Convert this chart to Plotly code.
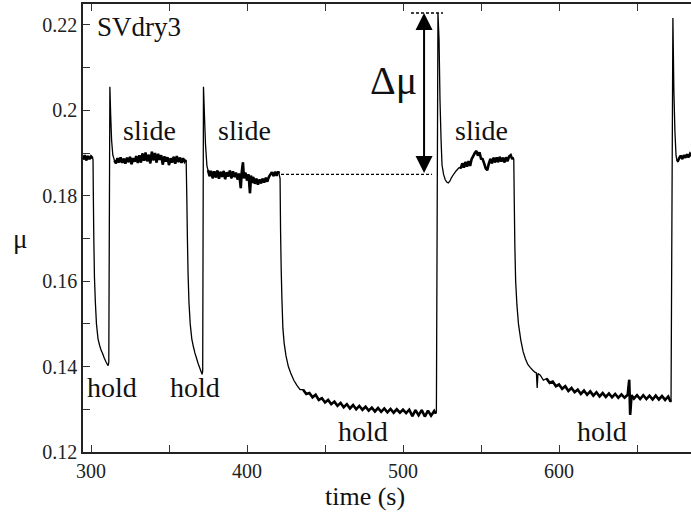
import plotly.graph_objects as go

# ---- data (time in s, friction coefficient mu) ----
slide0_t = [295, 296, 297, 298, 299, 300, 301]
slide0_mu = [0.1885, 0.1895, 0.1883, 0.1893, 0.1886, 0.1892, 0.1888]

hold1_t = [301.3, 301.5, 301.8, 302.2, 302.8, 303.5, 304.5, 305.5, 306.5, 307.5, 308.5, 309.5, 310.5, 311.0]
hold1_mu = [0.1885, 0.180, 0.170, 0.161, 0.155, 0.150, 0.1465, 0.145, 0.1438, 0.143, 0.142, 0.1412, 0.1405, 0.1402]

peak1_t = [311.4, 312.1, 312.6, 313.2, 314.0]
peak1_mu = [0.141, 0.2055, 0.199, 0.193, 0.1895]

slide1_t = [315, 316, 317, 318, 319, 320, 321, 322, 323, 324, 325, 326, 327, 328, 329, 330,
            331, 332, 333, 334, 335, 336, 337, 338, 339, 340, 341, 342, 343, 344, 345, 346,
            347, 348, 349, 350, 351, 352, 353, 354, 355, 356, 357, 358, 359, 360, 360.8]
slide1_mu = [0.1883, 0.1876, 0.1888, 0.1878, 0.1890, 0.1877, 0.1887, 0.1875, 0.1889, 0.1879,
             0.1891, 0.1874, 0.1888, 0.1880, 0.1893, 0.1877, 0.1895, 0.1878, 0.1899, 0.1882,
             0.1901, 0.1881, 0.1896, 0.1876, 0.1903, 0.1883, 0.1900, 0.1878, 0.1898, 0.1884,
             0.1895, 0.1873, 0.1892, 0.1880, 0.1890, 0.1872, 0.1888, 0.1878, 0.1891, 0.1875,
             0.1893, 0.1879, 0.1889, 0.1877, 0.1888, 0.1880, 0.1884]

hold2_t = [361.0, 361.4, 361.8, 362.2, 362.8, 363.6, 364.6, 365.6, 366.6, 367.6, 368.6, 369.6, 370.6, 371.2]
hold2_mu = [0.1882, 0.180, 0.170, 0.162, 0.155, 0.150, 0.1465, 0.1447, 0.1432, 0.142, 0.1408, 0.1398, 0.1388, 0.1382]

peak2_t = [371.6, 372.1, 372.7, 373.4, 374.3]
peak2_mu = [0.139, 0.2055, 0.199, 0.192, 0.187]

slide2_t = [375, 376, 377, 378, 379, 380, 381, 382, 383, 384, 385, 386, 387, 388, 389, 390,
            391, 392, 393, 394, 395, 396, 396.6, 397.4, 398, 399, 400, 401, 401.9, 402.6, 403,
            404, 405, 406, 407, 408, 409, 410, 411, 412, 413, 414, 415, 416, 417, 418, 419, 420, 420.5]
slide2_mu = [0.1860, 0.1846, 0.1858, 0.1841, 0.1857, 0.1843, 0.1859, 0.1840, 0.1856, 0.1844,
             0.1858, 0.1839, 0.1855, 0.1845, 0.1859, 0.1841, 0.1857, 0.1844, 0.1854, 0.1838,
             0.1852, 0.1818, 0.1854, 0.1878, 0.1841, 0.1854, 0.1836, 0.1850, 0.1806, 0.1847,
             0.1830, 0.1844, 0.1828, 0.1840, 0.1826, 0.1838, 0.1829, 0.1840, 0.1831, 0.1842,
             0.1833, 0.1844, 0.1850, 0.1855, 0.1846, 0.1856, 0.1847, 0.1857, 0.1852]

hold3_t = [421.2, 421.5, 421.9, 422.4, 423.0, 423.8, 425, 426.5, 428, 430,
           432, 434, 436, 438, 440, 442, 444, 446, 448, 450, 452, 454, 456, 458, 460,
           462, 464, 466, 468, 470, 472, 474, 476, 478, 480, 482, 484, 486, 488, 490,
           492, 494, 496, 498, 500, 502, 504, 506, 508, 510, 512, 514, 516, 518, 520, 521]
hold3_mu = [0.1840, 0.172, 0.163, 0.1556, 0.1490, 0.1455, 0.1425, 0.1400, 0.1385, 0.1368,
            0.1356, 0.1346, 0.1346, 0.1336, 0.1338, 0.1328, 0.1334, 0.1322, 0.1326, 0.1316,
            0.1322, 0.1312, 0.1318, 0.1308, 0.1315, 0.1305, 0.1312, 0.1302, 0.1310, 0.1300,
            0.1308, 0.1299, 0.1306, 0.1297, 0.1304, 0.1295, 0.1303, 0.1294, 0.1302, 0.1293,
            0.1301, 0.1292, 0.1300, 0.1292, 0.1299, 0.1291, 0.1299, 0.1284, 0.1298, 0.1286,
            0.1298, 0.1283, 0.1297, 0.1285, 0.1296, 0.1290]

peak3_t = [521.4, 522.4, 523.1, 523.7, 524.4]
peak3_mu = [0.1294, 0.2228, 0.2165, 0.2024, 0.193]

slide3_t = [525, 526, 527, 528, 529, 530, 531, 532, 533, 534, 535, 536,
            537, 538, 539, 540, 541, 542, 543, 544, 545, 546, 547, 548, 549, 550, 551, 552,
            553, 554, 555, 556, 557, 558, 559, 560, 561, 562, 563, 564, 565, 566, 567, 568,
            569, 570, 570.6]
slide3_mu = [0.1872, 0.1850, 0.1838, 0.1832, 0.1830, 0.1834, 0.1842, 0.1848, 0.1853, 0.1858,
             0.1862, 0.1866, 0.1864, 0.1876, 0.1866, 0.1879, 0.1868, 0.1881, 0.1870, 0.1886,
             0.1893, 0.1900, 0.1905, 0.1894, 0.1902, 0.1887, 0.1886, 0.1876, 0.1864, 0.1860,
             0.1875, 0.1886, 0.1876, 0.1889, 0.1878, 0.1890, 0.1879, 0.1891, 0.1880, 0.1889,
             0.1878, 0.1890, 0.1881, 0.1892, 0.1895, 0.1886, 0.1890]

hold4_t = [571.0, 571.3, 571.7, 572.2, 573.0, 574.0, 575.5, 577, 578.5, 580, 581.5, 583,
           584.5, 585.5, 586, 586.5, 588, 590, 592, 594, 596, 598, 600, 602, 604, 606, 608,
           610, 612, 614, 616, 618, 620, 622, 624, 626, 628, 630, 632, 634, 636, 638, 640,
           642, 644, 645, 645.6, 646.5, 648, 650, 652, 654, 656, 658, 660, 662, 664, 666,
           668, 670, 671.5]
hold4_mu = [0.1885, 0.179, 0.168, 0.160, 0.1545, 0.150, 0.1462, 0.1435, 0.1418, 0.1405,
            0.1398, 0.1392, 0.1387, 0.1385, 0.1350, 0.1384, 0.1380, 0.1368, 0.1372, 0.1362,
            0.1365, 0.1354, 0.1358, 0.1348, 0.1354, 0.1343, 0.1350, 0.1340, 0.1346, 0.1336,
            0.1344, 0.1334, 0.1342, 0.1332, 0.1340, 0.1330, 0.1338, 0.1329, 0.1337, 0.1328,
            0.1336, 0.1327, 0.1335, 0.1327, 0.1334, 0.1369, 0.1287, 0.1333, 0.1325, 0.1333,
            0.1324, 0.1333, 0.1324, 0.1332, 0.1323, 0.1332, 0.1323, 0.1331, 0.1322, 0.1330,
            0.1318]

peak4_t = [671.8, 673.0, 673.6, 674.3, 675.0, 675.6]
peak4_mu = [0.1318, 0.2216, 0.205, 0.195, 0.1895, 0.1882]

slide4_t = [676, 677, 678, 679, 680, 681, 682, 683, 684, 685]
slide4_mu = [0.1880, 0.1888, 0.1894, 0.1886, 0.1895, 0.1889, 0.1897, 0.1890, 0.1898, 0.1893]

# reference levels for the delta-mu marker
mu_slide_ref = 0.185
mu_peak_ref = 0.2228
ref_low_t = [421.8, 518.6]
ref_high_t = [505.1, 525.6]
arrow_t = 513.5

y_tickvals = [0.12, 0.14, 0.16, 0.18, 0.20, 0.22]
y_ticktext = ["0.12", "0.14", "0.16", "0.18", "0.2", "0.22"]
x_tickvals = [300, 400, 500, 600]

labels = [  # text, t, mu
    ("slide", 337.2, 0.1952),
    ("slide", 398.7, 0.1952),
    ("slide", 550.0, 0.1952),
    ("hold", 313.5, 0.1350),
    ("hold", 366.7, 0.1350),
    ("hold", 474.4, 0.1247),
    ("hold", 627.6, 0.1247),
]

FONT = "Liberation Serif"

segments_t = [slide0_t, hold1_t, peak1_t, slide1_t, hold2_t, peak2_t, slide2_t,
              hold3_t, peak3_t, slide3_t, hold4_t, peak4_t, slide4_t]
segments_mu = [slide0_mu, hold1_mu, peak1_mu, slide1_mu, hold2_mu, peak2_mu, slide2_mu,
               hold3_mu, peak3_mu, slide3_mu, hold4_mu, peak4_mu, slide4_mu]
t_all = [v for seg in segments_t for v in seg]
mu_all = [v for seg in segments_mu for v in seg]

fig = go.Figure()
fig.add_trace(go.Scatter(x=t_all, y=mu_all, mode="lines",
                         line=dict(color="black", width=1.3, simplify=False),
                         showlegend=False))

# the noisy steady parts look like a thick band in the original
noisy = [(slide0_t, slide0_mu), (slide1_t, slide1_mu), (slide2_t, slide2_mu),
         (slide3_t[12:], slide3_mu[12:]), (slide4_t, slide4_mu),
         (hold3_t[12:], hold3_mu[12:]), (hold4_t[18:], hold4_mu[18:])]
for nt, nm in noisy:
    fig.add_trace(go.Scatter(x=nt, y=nm, mode="lines",
                             line=dict(color="black", width=2.6, simplify=False),
                             showlegend=False))

# dotted reference lines
fig.add_trace(go.Scatter(x=ref_low_t, y=[mu_slide_ref] * 2, mode="lines",
                         line=dict(color="black", width=1.4, dash="3px,2px"), showlegend=False))
fig.add_trace(go.Scatter(x=ref_high_t, y=[mu_peak_ref] * 2, mode="lines",
                         line=dict(color="black", width=1.4, dash="3px,2px"), showlegend=False))

# double headed arrow
fig.add_annotation(x=arrow_t, y=mu_peak_ref, ax=arrow_t, ay=mu_slide_ref,
                   xref="x", yref="y", axref="x", ayref="y", text="",
                   showarrow=True, arrowhead=2, startarrowhead=2, arrowside="end+start",
                   arrowsize=1.7, arrowwidth=2, arrowcolor="black", standoff=0, startstandoff=0)

fig.add_annotation(x=494.0, y=0.2071, text="Δμ", showarrow=False,
                   font=dict(family=FONT, size=40, color="#111"))
fig.add_annotation(x=302.4, y=0.2195, text="SVdry3", showarrow=False, xanchor="left",
                   font=dict(family=FONT, size=27, color="#111"))
for txt, tx, ty in labels:
    fig.add_annotation(x=tx, y=ty, text=txt, showarrow=False,
                       font=dict(family=FONT, size=28, color="#111"))

# axis titles
fig.add_annotation(x=-0.118, y=0.475, xref="paper", yref="paper", text="μ", showarrow=False,
                   font=dict(family=FONT, size=27, color="#111"))
fig.add_annotation(x=0.464, y=-0.062, xref="paper", yref="paper", yanchor="top",
                   text="time (s)", showarrow=False,
                   font=dict(family=FONT, size=26, color="#111"))

fig.update_layout(
    width=691, height=512,
    margin=dict(l=83, r=0, t=4, b=60),
    plot_bgcolor="white", paper_bgcolor="white",
    font=dict(family=FONT, size=20, color="#222"),
)
fig.update_xaxes(
    range=[294.87, 684.6], tickvals=x_tickvals,
    ticks="inside", ticklen=7, tickwidth=1.2, tickcolor="#333",
    minor=dict(dtick=50, tick0=300, ticks="inside", ticklen=7, tickwidth=1.2, tickcolor="#333"),
    showline=True, linecolor="#222", linewidth=1.5, mirror="ticks",
    showgrid=False, zeroline=False,
)
fig.update_yaxes(
    range=[0.12, 0.2249], tickvals=y_tickvals, ticktext=y_ticktext,
    ticks="inside", ticklen=7, tickwidth=1.2, tickcolor="#333",
    minor=dict(dtick=0.01, tick0=0.12, ticks="inside", ticklen=7, tickwidth=1.2, tickcolor="#333"),
    showline=True, linecolor="#222", linewidth=1.5,
    showgrid=False, zeroline=False,
)

# page body has a default 8px margin; drop it so the figure sits at the window corner
fig.write_html("out.html", config={"displayModeBar": False},
               post_script="document.body.style.margin='0px';")
